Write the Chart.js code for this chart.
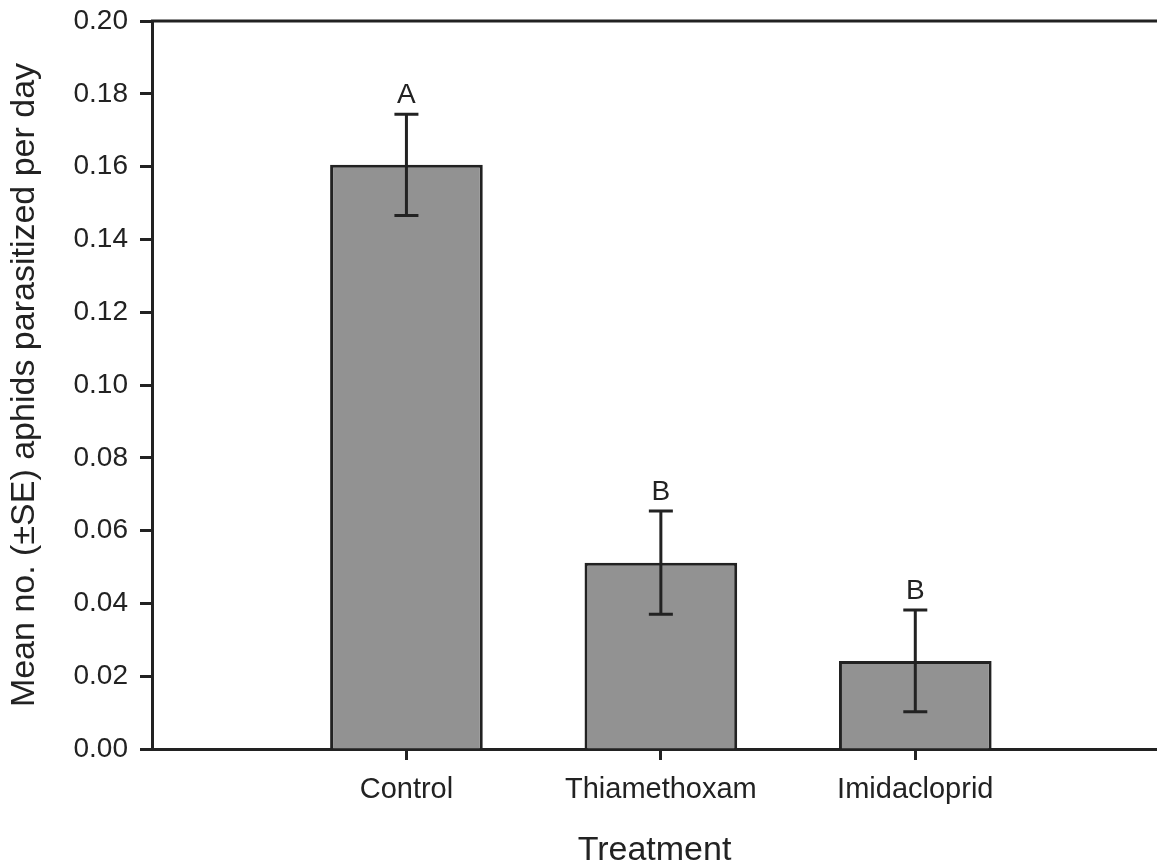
<!DOCTYPE html>
<html>
<head>
<meta charset="utf-8">
<script src="https://cdn.jsdelivr.net/npm/chart.js@4"></script>
<style>
  html, body { margin: 0; padding: 0; background: #fff; overflow: hidden; }
  #wrap { width: 1157px; height: 863px; }
</style>
</head>
<body>
<div id="wrap"><canvas id="chart"></canvas></div>
<script>
// --- data ---
const treatments = ['Control', 'Thiamethoxam', 'Imidacloprid'];
const positions = [1, 2, 3];
const means = [0.1605, 0.0512, 0.0242];
const errors = [0.0139, 0.0142, 0.0140];
const letters = ['A', 'B', 'B'];
const yTicks = [0, 0.02, 0.04, 0.06, 0.08, 0.10, 0.12, 0.14, 0.16, 0.18, 0.20];

const ink = '#222';
const family = '"Liberation Sans", Arial, sans-serif';

// error bars, significance letters and top frame line
const extras = {
    id: 'extras',
    afterDatasetsDraw(chart) {
        const { ctx, chartArea, scales: { x, y } } = chart;
        ctx.save();
        ctx.strokeStyle = ink;
        ctx.lineWidth = 3;

        // top frame
        ctx.beginPath();
        ctx.moveTo(chartArea.left - 1, chartArea.top);
        ctx.lineTo(chartArea.right, chartArea.top);
        ctx.stroke();

        positions.forEach((p, i) => {
            const px = x.getPixelForValue(p);
            const top = y.getPixelForValue(means[i] + errors[i]);
            const bot = y.getPixelForValue(means[i] - errors[i]);
            ctx.beginPath();
            ctx.moveTo(px, top); ctx.lineTo(px, bot);
            ctx.moveTo(px - 12, top); ctx.lineTo(px + 12, top);
            ctx.moveTo(px - 12, bot); ctx.lineTo(px + 12, bot);
            ctx.stroke();

            ctx.fillStyle = ink;
            ctx.font = '28px ' + family;
            ctx.textAlign = 'center';
            ctx.textBaseline = 'alphabetic';
            ctx.fillText(letters[i], px, top - 11);
        });
        ctx.restore();
    }
};

new Chart(document.getElementById('chart'), {
    type: 'bar',
    data: {
        datasets: [{
            data: positions.map((p, i) => ({ x: p, y: means[i] })),
            backgroundColor: '#929292',
            borderColor: ink,
            borderWidth: 3,
            barPercentage: 0.6,
            categoryPercentage: 1.0
        }]
    },
    options: {
        responsive: true,
        maintainAspectRatio: false,
        animation: false,
        layout: { padding: { top: 21, right: 0, left: 0, bottom: 0 } },
        plugins: { legend: { display: false }, tooltip: { enabled: false } },
        scales: {
            x: {
                type: 'linear',
                min: 0,
                max: 3.95,
                offset: false,
                afterBuildTicks: s => { s.ticks = positions.map(v => ({ value: v })); },
                afterFit: s => { s.height = 114; s.paddingLeft = 0; s.paddingRight = 0; },
                grid: { offset: false, drawOnChartArea: false, drawTicks: true, tickLength: 11, tickWidth: 3, tickColor: ink },
                border: { display: true, color: ink, width: 3 },
                ticks: {
                    callback: v => treatments[positions.indexOf(v)] || '',
                    color: ink,
                    padding: 13,
                    maxRotation: 0,
                    autoSkip: false,
                    font: { family: family, size: 29 }
                },
                title: {
                    display: true,
                    text: 'Treatment',
                    color: ink,
                    padding: { top: 0, bottom: 0 },
                    font: { family: family, size: 34, lineHeight: 0.7 }
                }
            },
            y: {
                min: 0,
                max: 0.2,
                afterBuildTicks: s => { s.ticks = yTicks.map(v => ({ value: v })); },
                afterFit: s => { s.width = 152; s.paddingTop = 0; s.paddingBottom = 0; },
                grid: { drawOnChartArea: false, drawTicks: true, tickLength: 12, tickWidth: 3, tickColor: ink },
                border: { display: true, color: ink, width: 3 },
                ticks: {
                    callback: v => v.toFixed(2),
                    color: ink,
                    padding: 12,
                    font: { family: family, size: 28 }
                },
                title: {
                    display: true,
                    text: 'Mean no. (±SE) aphids parasitized per day',
                    color: ink,
                    padding: { top: 4, bottom: 0 },
                    font: { family: family, size: 34 }
                }
            }
        }
    },
    plugins: [extras]
});
</script>
</body>
</html>
